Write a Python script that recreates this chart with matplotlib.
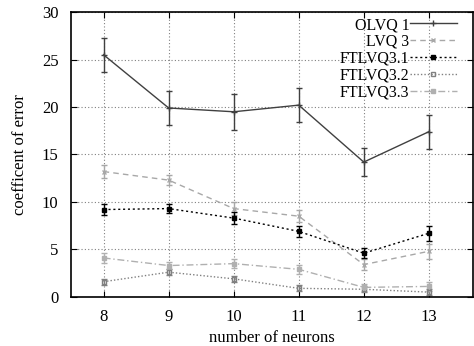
import matplotlib
matplotlib.use("Agg")
import matplotlib.pyplot as plt
from matplotlib.lines import Line2D

neurons = [8, 9, 10, 11, 12, 13]
olvq1 = [25.5, 19.9, 19.5, 20.2, 14.2, 17.4]
olvq1_err = [1.8, 1.8, 1.9, 1.8, 1.5, 1.8]
lvq3 = [13.2, 12.3, 9.3, 8.5, 3.4, 4.8]
lvq3_err = [0.7, 0.5, 0.7, 0.6, 0.6, 0.8]
ftlvq31 = [9.2, 9.3, 8.3, 6.9, 4.6, 6.7]
ftlvq31_err = [0.6, 0.5, 0.6, 0.6, 0.5, 0.8]
ftlvq32 = [1.6, 2.6, 1.9, 0.9, 0.8, 0.5]
ftlvq32_err = [0.3, 0.3, 0.3, 0.3, 0.3, 0.3]
ftlvq33 = [4.1, 3.3, 3.5, 2.9, 1.0, 1.1]
ftlvq33_err = [0.5, 0.4, 0.5, 0.5, 0.4, 0.5]

plt.rcParams['font.family'] = ['Liberation Serif', 'DejaVu Serif']
fig = plt.figure(figsize=(4.74, 3.46), dpi=100)
ax = fig.add_axes([0.150, 0.142, 0.848, 0.823])

series = [
    ("OLVQ 1", olvq1, olvq1_err, "#404040", "-", "+", 'none', 5),
    ("LVQ 3", lvq3, lvq3_err, "#a8a8a8", (0, (4, 3)), "x", 'none', 3.5),
    ("FTLVQ3.1", ftlvq31, ftlvq31_err, "#000000", (0, (1.5, 2)), "s", "#000000", 3.5),
    ("FTLVQ3.2", ftlvq32, ftlvq32_err, "#808080", (0, (1, 1.5)), "s", 'none', 3.5),
    ("FTLVQ3.3", ftlvq33, ftlvq33_err, "#b0b0b0", (0, (5, 2, 1, 2)), "s", "#b0b0b0", 3.5),
]
handles = []
for label, y, e, c, ls, m, mfc, ms in series:
    ax.errorbar(neurons, y, yerr=e, color=c, linestyle=ls, linewidth=1,
                marker=m, markerfacecolor=mfc, markeredgecolor=c, markersize=ms,
                capsize=2.5, elinewidth=1)
    handles.append(Line2D([], [], color=c, linestyle=ls, linewidth=1, marker=m,
                          markerfacecolor=mfc, markeredgecolor=c, markersize=ms,
                          label=label))

ax.set_xlim(7.5, 13.68)
ax.set_ylim(0, 30)
ax.set_xticks(neurons)
ax.set_yticks([0, 5, 10, 15, 20, 25, 30])
ax.grid(True, linestyle=(0, (1, 2)), color="#808080", linewidth=0.8)
ax.tick_params(direction='in', top=True, right=True, labelsize=12, length=4, pad=9)
for s in ax.spines.values():
    s.set_linewidth(1.2)
ax.set_xlabel("number of neurons", fontsize=12, labelpad=3)
ax.set_ylabel("coefficent of error", fontsize=12, labelpad=10)
leg = ax.legend(handles=handles, loc='upper right', markerfirst=False, frameon=False,
                fontsize=11.5, numpoints=1, handlelength=2.9, borderaxespad=0.0,
                labelspacing=0.05, handletextpad=0.05, bbox_to_anchor=(0.975, 1.005))
for t in leg.get_texts():
    t.set_ha('right')
fig.savefig("out.png", dpi=100)
